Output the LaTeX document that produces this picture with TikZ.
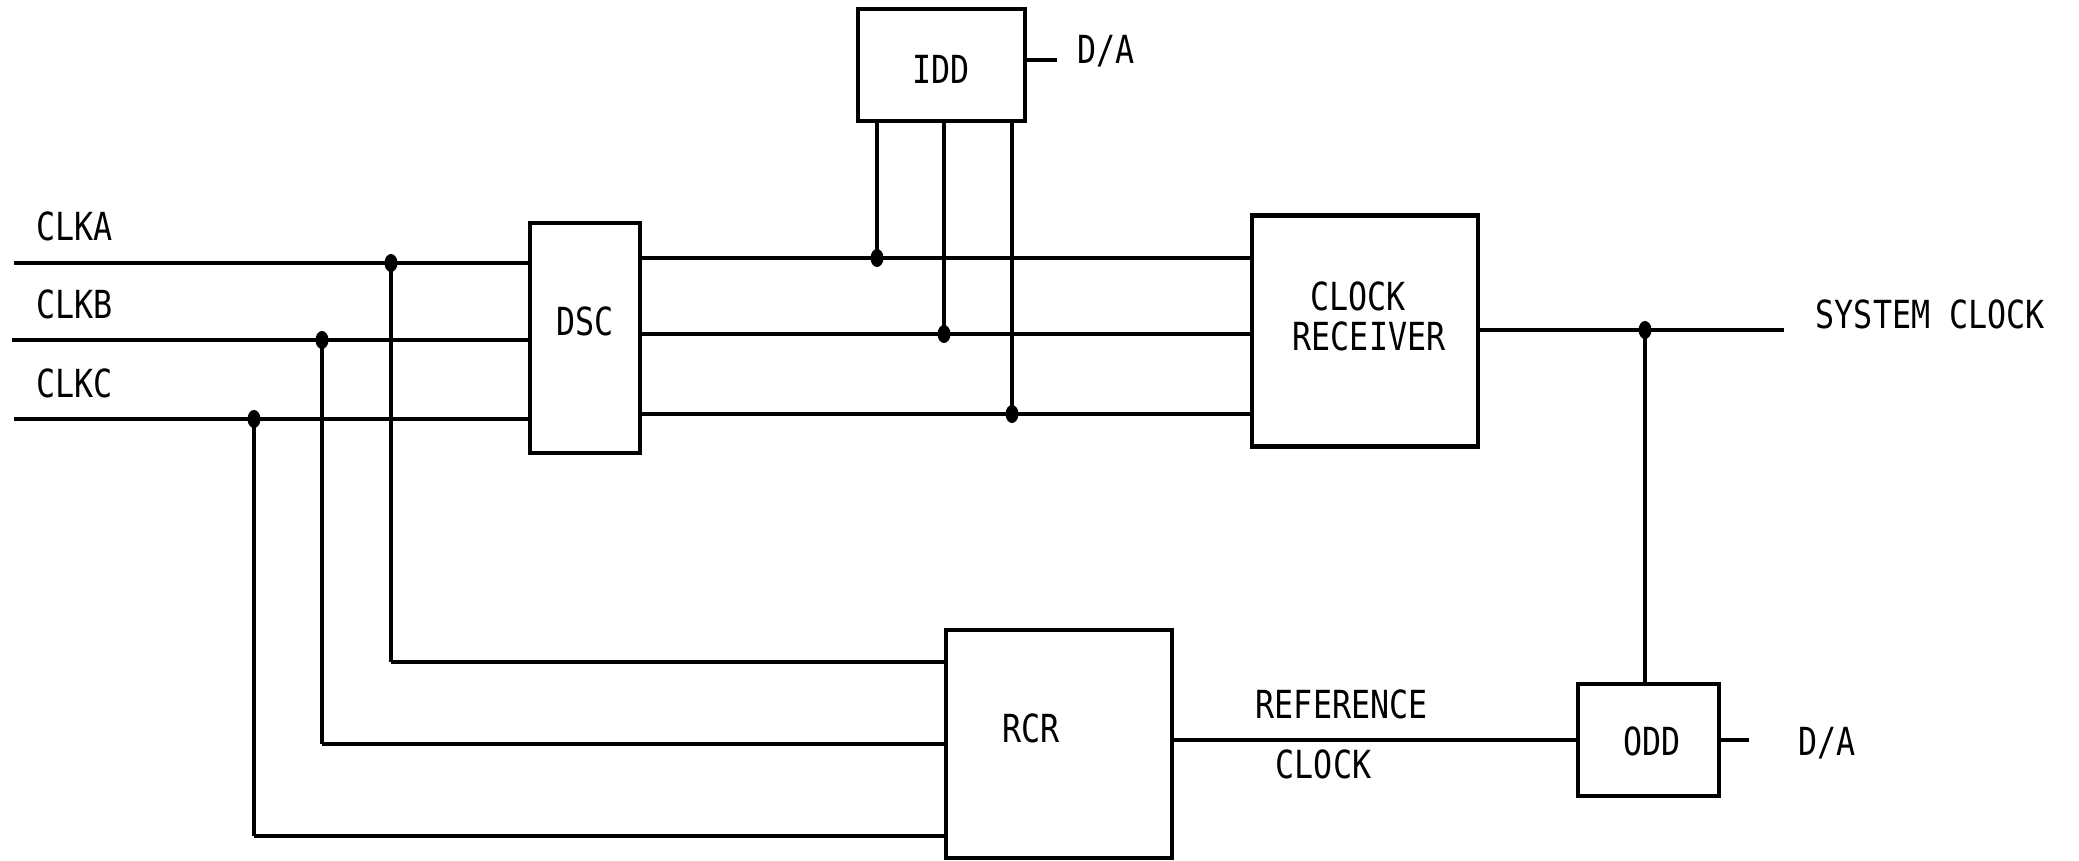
\documentclass[tikz,border=0pt]{standalone}
\usepackage{fontspec}
\setmainfont{DejaVu Sans Mono}[FakeStretch=0.82]
\begin{document}
\begin{tikzpicture}[x=0.01cm,y=-0.01cm,
  box/.style={draw,line width=1.2pt,inner sep=0pt},
  wire/.style={line width=1.3pt},
  vwire/.style={line width=1pt},
  txt/.style={inner sep=0pt,font=\fontsize{11pt}{13pt}\selectfont},
  jdot/.style={fill=black}]
\useasboundingbox (0,0) rectangle (2079,860);
% boxes
\node[box,minimum width=1.67cm,minimum height=1.12cm] (idd) at (941.5,65) {};
\node[box,minimum width=1.10cm,minimum height=2.30cm] (dsc) at (585,338) {};
\node[box,minimum width=2.26cm,minimum height=2.31cm] (cr) at (1365,331) {};
\node[box,minimum width=2.26cm,minimum height=2.28cm] (rcr) at (1059,744) {};
\node[box,minimum width=1.41cm,minimum height=1.12cm] (odd) at (1648.5,740) {};
% box texts
\node[txt,anchor=base] (tidd) at (941,83) {IDD};
\node[txt,anchor=base] (tdsc) at (585,335) {DSC};
\node[txt,anchor=base] (tcr1) at (1358,310) {CLOCK};
\node[txt,anchor=base] (tcr2) at (1369,350) {RECEIVER};
\node[txt,anchor=base] (trcr) at (1031,742) {RCR};
\node[txt,anchor=base] (todd) at (1652,755) {ODD};
% free labels
\node[txt,anchor=base west] (lA) at (36,240) {CLKA};
\node[txt,anchor=base west] (lB) at (36,318) {CLKB};
\node[txt,anchor=base west] (lC) at (36,397) {CLKC};
\node[txt,anchor=base west] (da1) at (1077,63) {D/A};
\node[txt,anchor=base west] (da2) at (1798,755) {D/A};
\node[txt,anchor=base west] (sys) at (1815,328) {SYSTEM CLOCK};
\node[txt,anchor=base west] (ref) at (1255,718) {REFERENCE};
\node[txt,anchor=base west] (clk) at (1275,778) {CLOCK};
% coordinates
\coordinate (inA) at (14,263);
\coordinate (inB) at (12,340);
\coordinate (inC) at (14,419);
\coordinate (jA) at (391,263);
\coordinate (jB) at (322,340);
\coordinate (jC) at (254,419);
\coordinate (yA) at (0,662);
\coordinate (yB) at (0,744);
\coordinate (yC) at (0,836);
\coordinate (kA) at (877,258);
\coordinate (kB) at (944,334);
\coordinate (kC) at (1012,414);
\coordinate (jS) at (1645,330);
\coordinate (sysend) at (1784,330);
% inputs
\draw[wire] (inA) -- (inA -| dsc.west);
\draw[wire] (inB) -- (inB -| dsc.west);
\draw[wire] (inC) -- (inC -| dsc.west);
% to RCR
\draw[vwire] (jA) -- (jA |- yA);
\draw[wire] (jA |- yA) -- (yA -| rcr.west);
\draw[vwire] (jB) -- (jB |- yB);
\draw[wire] (jB |- yB) -- (yB -| rcr.west);
\draw[vwire] (jC) -- (jC |- yC);
\draw[wire] (jC |- yC) -- (yC -| rcr.west);
% DSC to clock receiver
\draw[wire] (kA -| dsc.east) -- (kA -| cr.west);
\draw[wire] (kB -| dsc.east) -- (kB -| cr.west);
\draw[wire] (kC -| dsc.east) -- (kC -| cr.west);
% IDD taps
\draw[vwire] (kA |- idd.south) -- (kA);
\draw[vwire] (kB |- idd.south) -- (kB);
\draw[vwire] (kC |- idd.south) -- (kC);
% outputs
\draw[wire] (cr.east |- sysend) -- (sysend);
\draw[vwire] (jS) -- (jS |- odd.north);
\draw[wire] (rcr.east |- odd.west) -- (odd.west);
\draw[line width=1.1pt] (idd.east |- da1.west) ++(0,9) coordinate (d1) -- ++(30,0);
\draw[line width=1.1pt] (odd.east) -- ++(28,0);
% junction dots
\foreach \p in {jA,jB,jC,kA,kB,kC,jS}
  \fill[jdot] (\p) ellipse [x radius=0.065cm, y radius=0.09cm];
\end{tikzpicture}
\end{document}
